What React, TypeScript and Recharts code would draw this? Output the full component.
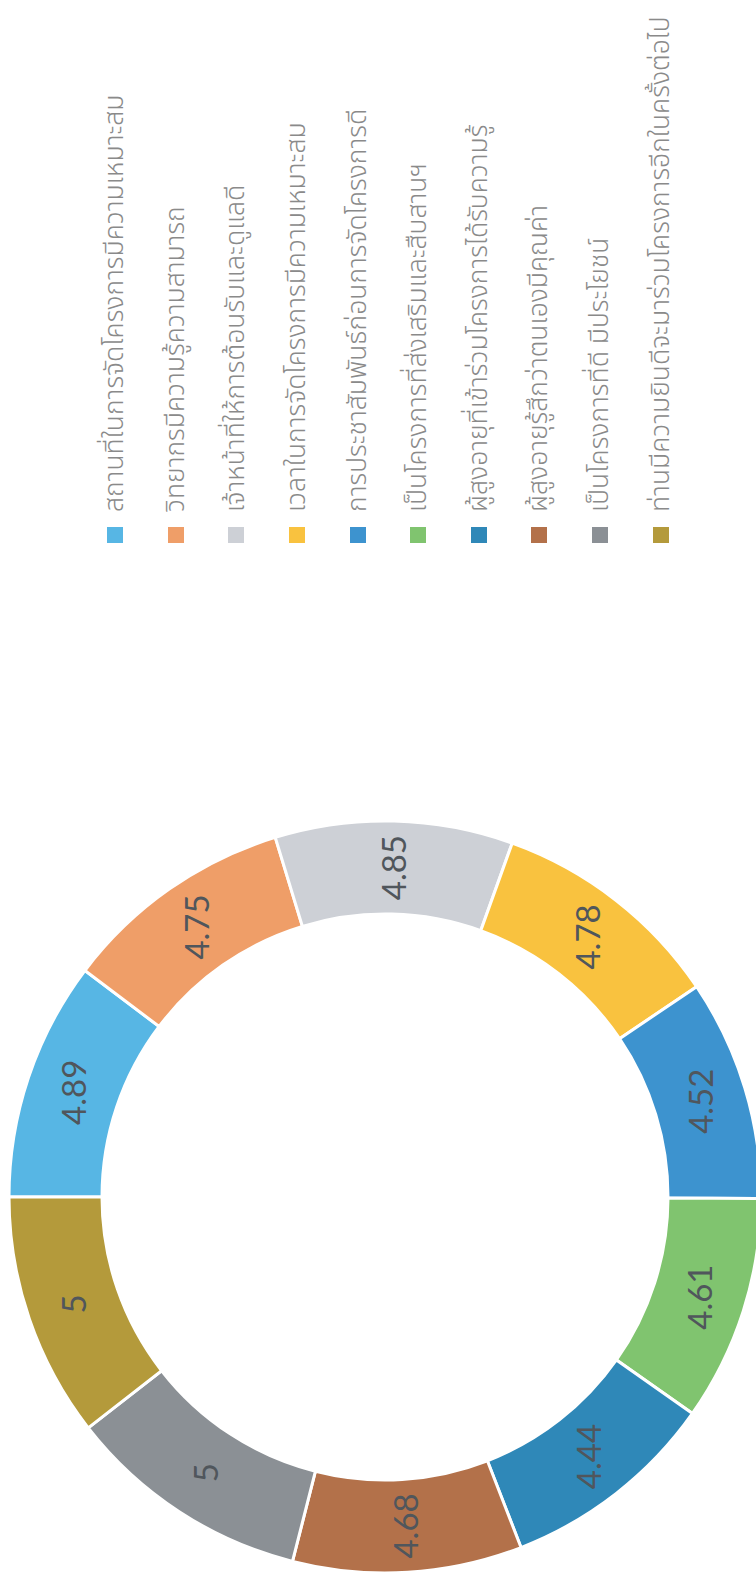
import { PieChart, Pie, Cell, Legend } from 'recharts';

// survey items (legend order = slice order, clockwise from 12 o'clock)
const items = [
  'สถานที่ในการจัดโครงการมีความเหมาะสม',
  'วิทยากรมีความรู้ความสามารถ',
  'เจ้าหน้าที่ให้การต้อนรับและดูแลดี',
  'เวลาในการจัดโครงการมีความเหมาะสม',
  'การประชาสัมพันธ์ก่อนการจัดโครงการดี',
  'เป็นโครงการที่ส่งเสริมและสืบสานฯ',
  'ผู้สูงอายุที่เข้าร่วมโครงการได้รับความรู้',
  'ผู้สูงอายุรู้สึกว่าตนเองมีคุณค่า',
  'เป็นโครงการที่ดี มีประโยชน์',
  'ท่านมีความยินดีจะมาร่วมโครงการอีกในครั้งต่อไป',
];
const scores = [4.89, 4.75, 4.85, 4.78, 4.52, 4.61, 4.44, 4.68, 5, 5];
const colors = [
  '#57b6e4', '#ef9e68', '#cdd0d6', '#f9c23f', '#3d93cf',
  '#80c46f', '#2f88b8', '#b3714a', '#8b9095', '#b49a3b',
];

const data = items.map((name, i) => ({ name, value: scores[i] }));

// page is a scanned sheet turned on its side: draw it landscape, then rotate
const W = 1581;
const H = 756;
const RAD = Math.PI / 180;

const renderLabel = (p: any) => {
  const r = (p.innerRadius + p.outerRadius) / 2;
  const x = p.cx + r * Math.cos(-p.midAngle * RAD);
  const y = p.cy + r * Math.sin(-p.midAngle * RAD);
  return (
    <text x={x} y={y} textAnchor="middle" dominantBaseline="central"
      fill="#50565c" fontSize={33} fontFamily="Lato, 'Open Sans', sans-serif">
      {p.value}
    </text>
  );
};

const LegendList = () => (
  <div style={{ fontFamily: "'Noto Sans Thai', 'Noto Sans', 'DejaVu Sans', sans-serif" }}>
    {items.map((t, i) => (
      <div key={i} style={{ display: 'flex', alignItems: 'center', height: 60.6 }}>
        <span style={{ width: 16, height: 16, background: colors[i], marginRight: 15, flex: 'none' }} />
        <span style={{ fontSize: 26.5, fontWeight: 300, color: '#8a8a8a', whiteSpace: 'nowrap' }}>{t}</span>
      </div>
    ))}
  </div>
);

export default function App() {
  return (
    <div style={{
      position: 'absolute', top: 0, left: 0, width: W, height: H,
      background: '#fff', transformOrigin: '0 0',
      transform: `translateY(${W}px) rotate(-90deg)`,
    }}>
      <PieChart width={W} height={H} margin={{ top: 0, right: 0, bottom: 0, left: 0 }}>
        <Pie
          data={data}
          dataKey="value"
          cx={384}
          cy={385}
          innerRadius={283}
          outerRadius={376}
          startAngle={90}
          endAngle={-270}
          stroke="#fff"
          strokeWidth={3}
          label={renderLabel}
          labelLine={false}
          isAnimationActive={false}
        >
          {data.map((d, i) => <Cell key={d.name} fill={colors[i]} />)}
        </Pie>
        <Legend
          layout="vertical"
          align="right"
          verticalAlign="top"
          content={<LegendList />}
          wrapperStyle={{ left: 1038, top: 85, width: 540 }}
        />
      </PieChart>
    </div>
  );
}
